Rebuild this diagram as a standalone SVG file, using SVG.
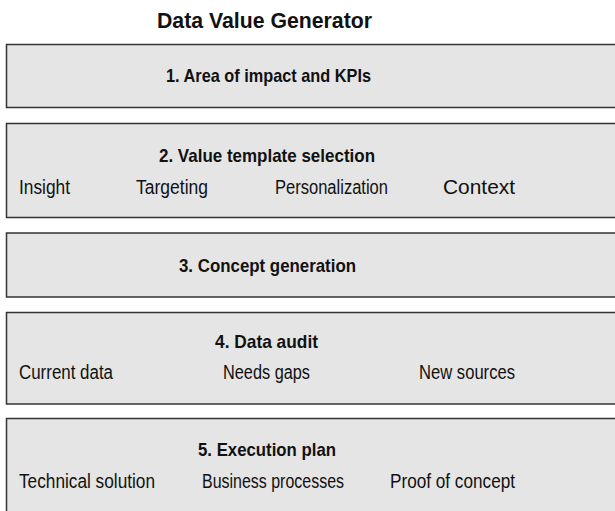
<svg xmlns="http://www.w3.org/2000/svg" width="615" height="511" viewBox="0 0 615 511">
<style>
.box{fill:#e5e5e5;stroke:#333333;stroke-width:1.5}
.t{font-family:"Liberation Sans",Arial,sans-serif;fill:#111111}
.h{font-weight:bold;font-size:18.5px}
.s{font-size:19.5px}
.title{font-weight:bold;font-size:21.5px}
</style>
<rect width="615" height="511" fill="#ffffff"/>
<text class="t title" x="157" y="27.5" textLength="215" lengthAdjust="spacingAndGlyphs">Data Value Generator</text>
<g id="step1">
<rect class="box" x="6.5" y="44.5" width="620" height="63"/>
<text class="t h" x="166" y="82" textLength="205" lengthAdjust="spacingAndGlyphs">1. Area of impact and KPIs</text>
</g>
<g id="step2">
<rect class="box" x="6.5" y="123.5" width="620" height="94"/>
<text class="t h" x="159" y="161.5" textLength="216" lengthAdjust="spacingAndGlyphs">2. Value template selection</text>
<text class="t s" x="19" y="194" textLength="51" lengthAdjust="spacingAndGlyphs">Insight</text>
<text class="t s" x="136" y="194" textLength="72" lengthAdjust="spacingAndGlyphs">Targeting</text>
<text class="t s" x="275" y="194" textLength="113" lengthAdjust="spacingAndGlyphs">Personalization</text>
<text class="t s" x="443" y="194" textLength="72" lengthAdjust="spacingAndGlyphs">Context</text>
</g>
<g id="step3">
<rect class="box" x="6.5" y="233" width="620" height="64"/>
<text class="t h" x="179" y="271.5" textLength="177" lengthAdjust="spacingAndGlyphs">3. Concept generation</text>
</g>
<g id="step4">
<rect class="box" x="6.5" y="312.5" width="620" height="91.5"/>
<text class="t h" x="215" y="348" textLength="103" lengthAdjust="spacingAndGlyphs">4. Data audit</text>
<text class="t s" x="19" y="379" textLength="94" lengthAdjust="spacingAndGlyphs">Current data</text>
<text class="t s" x="223" y="379" textLength="87" lengthAdjust="spacingAndGlyphs">Needs gaps</text>
<text class="t s" x="419" y="379" textLength="96" lengthAdjust="spacingAndGlyphs">New sources</text>
</g>
<g id="step5">
<rect class="box" x="6.5" y="418.5" width="620" height="120"/>
<text class="t h" x="198" y="456" textLength="138" lengthAdjust="spacingAndGlyphs">5. Execution plan</text>
<text class="t s" x="19" y="488" textLength="136" lengthAdjust="spacingAndGlyphs">Technical solution</text>
<text class="t s" x="202" y="488" textLength="142" lengthAdjust="spacingAndGlyphs">Business processes</text>
<text class="t s" x="390" y="488" textLength="125" lengthAdjust="spacingAndGlyphs">Proof of concept</text>
</g>
<g id="connectors"/>
</svg>
